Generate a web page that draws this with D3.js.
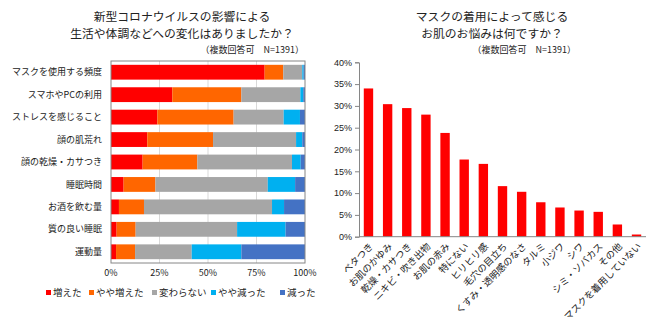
<!DOCTYPE html>
<html>
<head>
<meta charset="utf-8">
<script src="https://cdn.jsdelivr.net/npm/d3@7"></script>
<style>
  body { margin: 0; background: #fff; }
  svg { display: block; font-family: "Noto Sans CJK JP", sans-serif; }
</style>
</head>
<body>
<div id="chart"></div>
<script>
// left chart: change in daily life (%)
const changeCategories = ["マスクを使用する頻度", "スマホやPCの利用", "ストレスを感じること", "顔の肌荒れ", "顔の乾燥・カサつき", "睡眠時間", "お酒を飲む量", "質の良い睡眠", "運動量"];
const changeSeries = ["増えた", "やや増えた", "変わらない", "やや減った", "減った"];
const increased = [79.2, 31.6, 23.9, 18.7, 16.3, 6.5, 4.1, 2.9, 2.6];
const slightlyIncreased = [9.6, 35.6, 39.3, 33.9, 28.2, 16.4, 12.9, 9.8, 9.8];
const unchanged = [9.8, 30.4, 25.8, 42.8, 48.8, 57.9, 66.0, 52.3, 29.2];
const slightlyDecreased = [0.7, 1.5, 8.4, 3.2, 4.5, 14.1, 6.2, 25.0, 25.6];
const decreased = [0.7, 0.9, 2.6, 1.4, 2.2, 5.1, 10.8, 10.0, 32.8];
const changeTicks = [0, 25, 50, 75, 100];

// right chart: skin worries from wearing a mask (%)
const worryCategories = ["ベタつき", "お肌のかゆみ", "乾燥・カサつき", "ニキビ・吹き出物", "お肌の赤み", "特にない", "ヒリヒリ感", "毛穴の目立ち", "くすみ・透明感のなさ", "タルミ", "小ジワ", "シワ", "シミ・ソバカス", "その他", "マスクを着用していない"];
const worryValues = [34.0, 30.4, 29.5, 28.0, 23.8, 17.7, 16.7, 11.6, 10.3, 7.9, 6.7, 6.0, 5.7, 2.8, 0.5];
const worryTicks = [0, 5, 10, 15, 20, 25, 30, 35, 40];

const colors = ["#FF0000", "#FF6600", "#A6A6A6", "#00B0F0", "#4472C4"];

const svg = d3.select("#chart").append("svg")
  .attr("width", 660)
  .attr("height", 325);

function title(cx, right, lines) {
  svg.append("text").attr("x", cx).attr("y", 21)
    .attr("text-anchor", "middle").attr("font-size", 11.8).attr("fill", "#222")
    .text(lines[0]);
  svg.append("text").attr("x", cx).attr("y", 38)
    .attr("text-anchor", "middle").attr("font-size", 11.8).attr("fill", "#222")
    .text(lines[1]);
  svg.append("text").attr("x", right).attr("y", 52.5)
    .attr("text-anchor", "end").attr("font-size", 9).attr("fill", "#222")
    .text("（複数回答可　N=1391）");
}

title(182, 304, ["新型コロナウイルスの影響による", "生活や体調などへの変化はありましたか？"]);
title(492, 576, ["マスクの着用によって感じる", "お肌のお悩みは何ですか？"]);

// ---- left stacked bar chart ----
const rows = changeCategories.map((c, i) => ({
  category: c,
  [changeSeries[0]]: increased[i],
  [changeSeries[1]]: slightlyIncreased[i],
  [changeSeries[2]]: unchanged[i],
  [changeSeries[3]]: slightlyDecreased[i],
  [changeSeries[4]]: decreased[i]
}));

const x = d3.scaleLinear().domain([0, 100]).range([111, 305]);
const y = d3.scaleBand().domain(changeCategories).range([61, 263]).paddingInner(0.34).paddingOuter(0.17);

const left = svg.append("g");

left.selectAll(".grid")
  .data(changeTicks.slice(1, -1))
  .enter().append("line")
  .attr("x1", d => x(d)).attr("x2", d => x(d))
  .attr("y1", 61).attr("y2", 263)
  .attr("stroke", "#D9D9D9");

const stack = d3.stack().keys(changeSeries)(rows);

left.selectAll(".layer")
  .data(stack)
  .enter().append("g")
  .attr("fill", (d, i) => colors[i])
  .selectAll("rect")
  .data(d => d)
  .enter().append("rect")
  .attr("x", d => x(d[0]))
  .attr("width", d => x(d[1]) - x(d[0]))
  .attr("y", d => y(d.data.category))
  .attr("height", y.bandwidth());

left.append("rect")
  .attr("x", 111).attr("y", 61)
  .attr("width", 194).attr("height", 202)
  .attr("fill", "none").attr("stroke", "#868686");

left.selectAll(".cat")
  .data(changeCategories)
  .enter().append("text")
  .attr("x", 102)
  .attr("y", d => y(d) + y.bandwidth() / 2)
  .attr("dy", "0.35em")
  .attr("text-anchor", "end")
  .attr("font-size", 9)
  .attr("fill", "#222")
  .text(d => d);

left.selectAll(".tick")
  .data(changeTicks)
  .enter().append("text")
  .attr("x", d => x(d))
  .attr("y", 276)
  .attr("text-anchor", "middle")
  .attr("font-size", 9)
  .attr("fill", "#222")
  .text(d => d + "%");

const legendX = [46, 89, 152, 211, 280];
const legend = left.selectAll(".legend")
  .data(changeSeries)
  .enter().append("g")
  .attr("transform", (d, i) => `translate(${legendX[i]}, 293)`);
legend.append("rect")
  .attr("x", 0).attr("y", -3).attr("width", 5).attr("height", 5)
  .attr("fill", (d, i) => colors[i]);
legend.append("text")
  .attr("x", 7).attr("dy", "0.35em")
  .attr("font-size", 9.5).attr("fill", "#222")
  .text(d => d);

// ---- right bar chart ----
const xb = d3.scaleBand().domain(worryCategories).range([359, 646]).paddingInner(0.51).paddingOuter(0.25);
const yb = d3.scaleLinear().domain([0, 40]).range([236.7, 62.3]);

const right = svg.append("g");

right.selectAll(".bar")
  .data(worryCategories)
  .enter().append("rect")
  .attr("x", d => xb(d))
  .attr("width", xb.bandwidth())
  .attr("y", (d, i) => yb(worryValues[i]))
  .attr("height", (d, i) => yb(0) - yb(worryValues[i]))
  .attr("fill", "#FF0000");

const yAxis = right.append("g")
  .attr("transform", "translate(359,0)")
  .call(d3.axisLeft(yb).tickValues(worryTicks).tickSize(4).tickFormat(d => d + "%"));
yAxis.select(".domain").attr("stroke", "#868686");
yAxis.selectAll(".tick line").attr("stroke", "#868686");
yAxis.selectAll("text").attr("font-size", 9).attr("fill", "#222")
  .attr("font-family", "Liberation Sans, sans-serif");

right.append("line")
  .attr("x1", 359).attr("x2", 646)
  .attr("y1", yb(0)).attr("y2", yb(0))
  .attr("stroke", "#868686");

right.selectAll(".xlab")
  .data(worryCategories)
  .enter().append("text")
  .attr("transform", d => `translate(${xb(d) + xb.bandwidth() / 2 + 3},${yb(0) + 8}) rotate(-45)`)
  .attr("text-anchor", "end")
  .attr("dy", "0.35em")
  .attr("font-size", 9.5)
  .attr("fill", "#222")
  .text(d => d);
</script>
</body>
</html>
